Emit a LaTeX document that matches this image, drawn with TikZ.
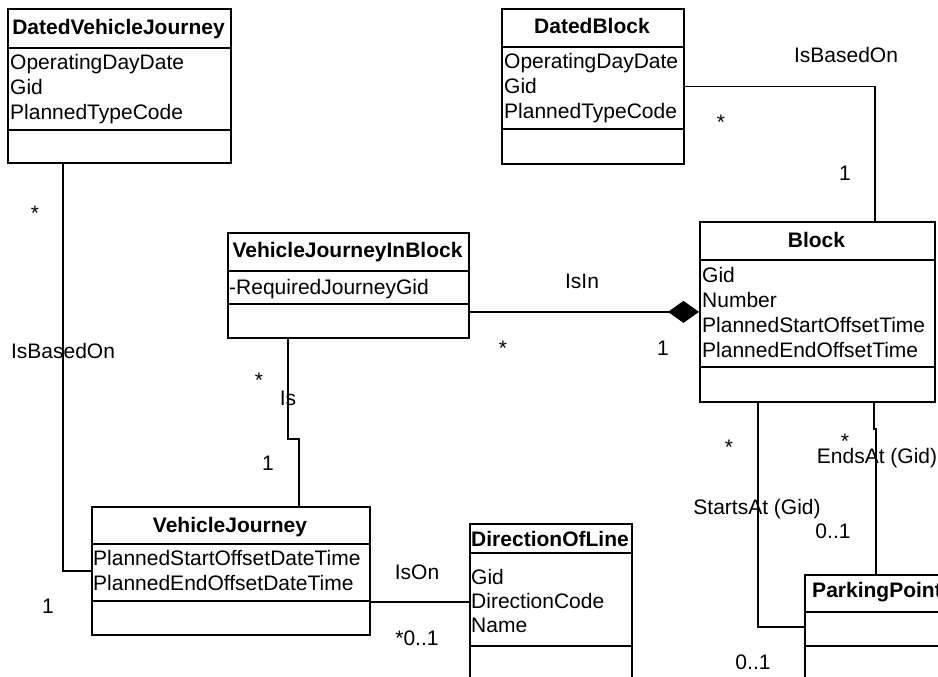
\documentclass[tikz,border=0pt]{standalone}
\usepackage{fontspec}
\setmainfont{Liberation Sans}
\usetikzlibrary{arrows.meta}

\begin{document}
\begin{tikzpicture}[x=1pt, y=-1pt,
    classbox/.style={draw, line width=1.8pt, inner sep=0pt, anchor=north west},
    sep/.style={line width=1.8pt},
    title/.style={font=\fontsize{21}{24}\selectfont\bfseries, inner sep=0pt, anchor=base},
    attr/.style={font=\fontsize{21}{24}\selectfont, inner sep=0pt, anchor=base west},
    lbl/.style={font=\fontsize{21}{24}\selectfont, inner sep=0pt, anchor=base},
    assoc/.style={line width=1.2pt}]

    \useasboundingbox (0,0) rectangle (938,677);
    \clip (0,0) rectangle (938,677);

    % --- DatedVehicleJourney ---
    \node[classbox, minimum width=223pt, minimum height=154pt] (dvj) at (7,8) {};
    \draw[sep] (dvj.west |- 0,48) -- (dvj.east |- 0,48) (dvj.west |- 0,130) -- (dvj.east |- 0,130);
    \node[title] (dvj-t) at (118.5,35) {DatedVehicleJourney};
    \node[attr] (dvj-a1) at (10,70) {OperatingDayDate};
    \node[attr] (dvj-a2) at (10,95) {Gid};
    \node[attr] (dvj-a3) at (10,119) {PlannedTypeCode};

    % --- DatedBlock ---
    \node[classbox, minimum width=182pt, minimum height=155pt] (db) at (501,8) {};
    \draw[sep] (db.west |- 0,47) -- (db.east |- 0,47) (db.west |- 0,129) -- (db.east |- 0,129);
    \node[title] (db-t) at (592,34) {DatedBlock};
    \node[attr] (db-a1) at (504,69) {OperatingDayDate};
    \node[attr] (db-a2) at (504,94) {Gid};
    \node[attr] (db-a3) at (504,118) {PlannedTypeCode};

    % --- VehicleJourneyInBlock ---
    \node[classbox, minimum width=241pt, minimum height=105pt] (vjib) at (227,232) {};
    \draw[sep] (vjib.west |- 0,271) -- (vjib.east |- 0,271) (vjib.west |- 0,304) -- (vjib.east |- 0,304);
    \node[title] (vjib-t) at (347.5,257) {VehicleJourneyInBlock};
    \node[attr] (vjib-a1) at (229,294) {-RequiredJourneyGid};

    % --- Block ---
    \node[classbox, minimum width=235pt, minimum height=180pt] (block) at (699,221) {};
    \draw[sep] (block.west |- 0,260) -- (block.east |- 0,260) (block.west |- 0,367) -- (block.east |- 0,367);
    \node[title] (block-t) at (816.5,247) {Block};
    \node[attr] (block-a1) at (702,282) {Gid};
    \node[attr] (block-a2) at (702,307) {Number};
    \node[attr] (block-a3) at (702,332) {PlannedStartOffsetTime};
    \node[attr] (block-a4) at (702,357) {PlannedEndOffsetTime};

    % --- VehicleJourney ---
    \node[classbox, minimum width=278pt, minimum height=128pt] (vj) at (91,506) {};
    \draw[sep] (vj.west |- 0,544) -- (vj.east |- 0,544) (vj.west |- 0,601) -- (vj.east |- 0,601);
    \node[title] (vj-t) at (230,532) {VehicleJourney};
    \node[attr] (vj-a1) at (93,565) {PlannedStartOffsetDateTime};
    \node[attr] (vj-a2) at (93,590) {PlannedEndOffsetDateTime};

    % --- DirectionOfLine (runs off the bottom) ---
    \node[classbox, minimum width=162pt, minimum height=177pt] (dol) at (469,523) {};
    \draw[sep] (dol.west |- 0,553) -- (dol.east |- 0,553) (dol.west |- 0,646) -- (dol.east |- 0,646);
    \node[title] (dol-t) at (550,546) {DirectionOfLine};
    \node[attr] (dol-a1) at (471,584) {Gid};
    \node[attr] (dol-a2) at (471,608) {DirectionCode};
    \node[attr] (dol-a3) at (471,632) {Name};

    % --- ParkingPoint (cut at the right edge) ---
    \node[classbox, minimum width=146pt, minimum height=126pt] (pp) at (804,574) {};
    \draw[sep] (pp.west |- 0,612) -- (pp.east |- 0,612) (pp.west |- 0,646) -- (pp.east |- 0,646);
    \node[title] (pp-t) at (877,597) {ParkingPoint};

    % --- associations ---
    \draw[assoc] (db.east) -| (block.north -| 875,0);
    \draw[assoc] (dvj.south -| 63,0) |- (vj.west);
    \draw[assoc, -{Diamond[length=31pt, width=22pt]}] (vjib.east |- block.west) -- (block.west);
    \draw[assoc] (vjib.south -| 288,0) -- (288,439) -- (299,439) -- (vj.north -| 299,0);
    \draw[assoc] (vj.east |- 0,602) -- (dol.west |- 0,602);
    \draw[assoc] (block.south -| 758,0) |- (pp.west |- 0,627);
    \draw[assoc] (block.south -| 874,0) -- (874,429) -- (876,429) -- (pp.north -| 876,0);

    % --- labels and multiplicities ---
    \node[lbl] (l-dbbased) at (846,63) {IsBasedOn};
    \node[lbl] (m-db) at (721,129) {*};
    \node[lbl] (m-blocktop) at (845,180) {1};
    \node[lbl] (m-dvj) at (35,220) {*};
    \node[lbl] (l-dvjbased) at (63,358) {IsBasedOn};
    \node[lbl] (m-vj) at (48,613) {1};
    \node[lbl] (l-isin) at (582,288) {IsIn};
    \node[lbl] (m-vjib) at (503,355) {*};
    \node[lbl] (m-blockl) at (663,355) {1};
    \node[lbl] (m-vjibb) at (259,387) {*};
    \node[lbl] (l-is) at (288,405) {Is};
    \node[lbl] (m-vjt) at (268,470) {1};
    \node[lbl] (l-ison) at (417,579) {IsOn};
    \node[lbl] (m-dol) at (417,645) {*0..1};
    \node[lbl] (m-start) at (729,454) {*};
    \node[lbl] (m-end) at (845,448) {*};
    \node[lbl] (l-ends) at (877,463) {EndsAt (Gid)};
    \node[lbl] (l-starts) at (757,514) {StartsAt (Gid)};
    \node[lbl] (m-ppend) at (833,538) {0..1};
    \node[lbl] (m-ppstart) at (753,669) {0..1};
\end{tikzpicture}
\end{document}
